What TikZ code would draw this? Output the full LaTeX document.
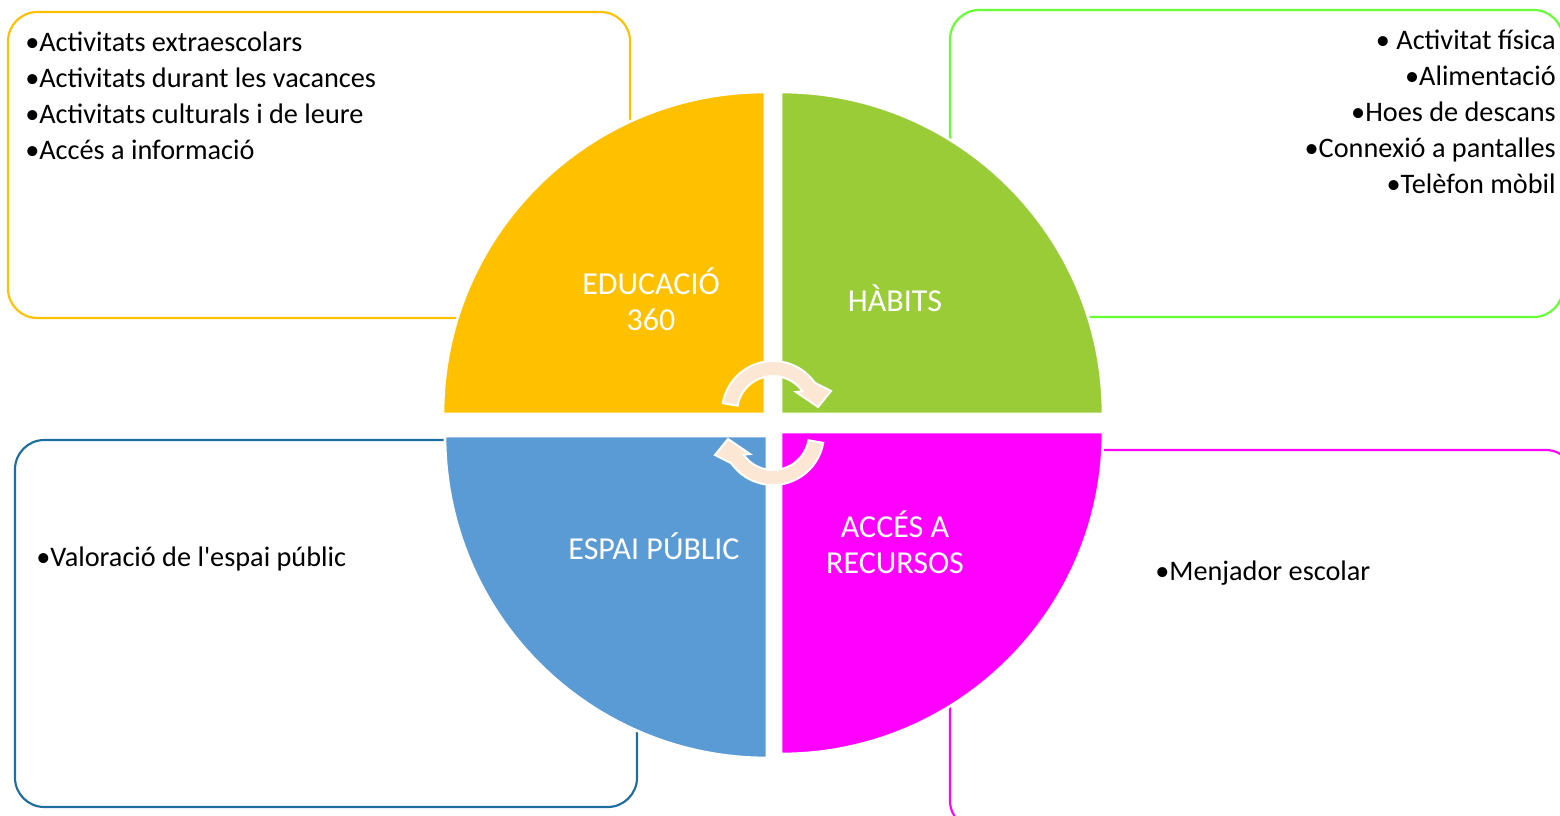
\documentclass[tikz,border=0pt]{standalone}
\usepackage{fontspec}
\setmainfont{Carlito}[Ligatures=TeXOff]
\definecolor{eduYellow}{RGB}{255,192,0}
\definecolor{habGreen}{RGB}{154,204,56}
\definecolor{habLine}{RGB}{102,255,51}
\definecolor{espBlue}{RGB}{91,155,213}
\definecolor{espLine}{RGB}{28,110,160}
\definecolor{accMagenta}{RGB}{255,0,255}
\definecolor{cycPeach}{RGB}{252,230,212}

\begin{document}
\begin{tikzpicture}[x=0.75pt,y=0.75pt,yscale=-1,xscale=1,
    listbox/.style={rounded corners=22pt, line width=1.6pt},
    quarter/.style={draw=white, line width=2pt},
    qlabel/.style={text=white, align=center, font=\fontsize{24}{27}\selectfont},
    items/.style={inner sep=0pt, font=\fontsize{21.2}{27}\selectfont},
    cyc/.style={fill=cycPeach, draw=white, line width=1.5pt}]
    \clip (0,0) rectangle (1560,816);
    % boxes behind the circle
    \draw[listbox, draw=eduYellow] (8,12) rectangle (630,318);
    \draw[listbox, draw=habLine] (950,10) rectangle (1563,317);
    \draw[listbox, draw=espLine] (15,440) rectangle (637,807);
    \draw[listbox, draw=accMagenta] (950,450) rectangle (1575,830);
    % the four quarters
    \path[quarter, fill=eduYellow] (765,414) -- ++(180:322) arc[start angle=180, end angle=270, radius=322] -- cycle;
    \path[quarter, fill=habGreen] (781,414) -- ++(270:322) arc[start angle=270, end angle=360, radius=322] -- cycle;
    \path[quarter, fill=accMagenta] (781,432) -- ++(0:322) arc[start angle=0, end angle=90, radius=322] -- cycle;
    \path[quarter, fill=espBlue] (767,436) -- ++(90:322) arc[start angle=90, end angle=180, radius=322] -- cycle;
    \node[qlabel] (edu) at (651,299) {EDUCACIÓ\\360};
    \node[qlabel] (hab) at (895,298) {HÀBITS};
    \node[qlabel] (esp) at (654,546) {ESPAI PÚBLIC};
    \node[qlabel] (acc) at (895,542) {ACCÉS A\\RECURSOS};
    % cycle arrows
    \coordinate (c1) at (773,412);
    \coordinate (c2) at (773,434);
    \path[cyc] (c1) ++(190:51) arc[start angle=190, end angle=325, radius=51]
        -- ([shift={(58,-21)}]c1) -- ([shift={(45,-5)}]c1) -- ([shift={(23,-20)}]c1)
        -- ([shift={(325:36)}]c1) arc[start angle=325, end angle=190, radius=36] -- cycle;
    \path[cyc] (c2) ++(10:51) arc[start angle=10, end angle=145, radius=51]
        -- ([shift={(-58,21)}]c2) -- ([shift={(-45,5)}]c2) -- ([shift={(-23,20)}]c2)
        -- ([shift={(145:36)}]c2) arc[start angle=145, end angle=10, radius=36] -- cycle;
    % item lists
    \node[items, anchor=north west, align=left] (eduList) at (25,32) {•Activitats extraescolars\\•Activitats durant les vacances\\•Activitats culturals i de leure\\•Accés a informació};
    \node[items, anchor=north east, align=right] (habList) at (1556,30) {• Activitat física\\•Alimentació\\•Hoes de descans\\•Connexió a pantalles\\•Telèfon mòbil};
    \node[items, anchor=west] (espList) at (36,559) {•Valoració de l'espai públic};
    \node[items, anchor=west] (accList) at (1155,573) {•Menjador escolar};
\end{tikzpicture}
\end{document}
